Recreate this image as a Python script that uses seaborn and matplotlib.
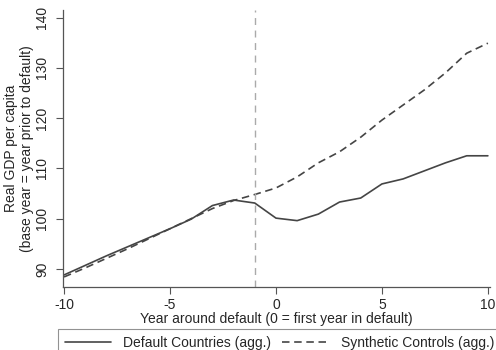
import pandas as pd
import seaborn as sns
import matplotlib.pyplot as plt

# values
years = list(range(-10, 11))
default_countries = [88.8, 90.7, 92.6, 94.4, 96.2, 98.0, 99.9, 102.6, 103.7, 103.1,
                     100.1, 99.6, 100.9, 103.3, 104.1, 106.9, 107.9, 109.5, 111.1, 112.5, 112.5]
synthetic_controls = [88.4, 90.2, 92.1, 94.0, 96.0, 98.0, 100.0, 102.0, 103.6, 104.8,
                      106.1, 108.3, 111.1, 113.3, 116.2, 119.6, 122.6, 125.6, 129.0, 132.9, 134.9]
series_names = ["Default Countries (agg.)", "Synthetic Controls (agg.)"]
x_ticks = [-10, -5, 0, 5, 10]
y_ticks = [90, 100, 110, 120, 130, 140]
default_year = -1

sns.set_style("ticks")
plt.rcParams['font.family'] = ['Liberation Sans', 'DejaVu Sans']

df = pd.DataFrame({
    "year": years * 2,
    "gdp": default_countries + synthetic_controls,
    "series": [series_names[0]] * len(years) + [series_names[1]] * len(years),
})

fig = plt.figure(figsize=(4.96, 3.5), dpi=100)
ax = fig.add_axes([63 / 496, 1 - 287 / 350, (490 - 63) / 496, (287 - 10) / 350])

sns.lineplot(data=df, x="year", y="gdp", style="series", style_order=series_names,
             dashes={series_names[0]: "", series_names[1]: (4.5, 2.8)},
             color="#454545", linewidth=1.2, ax=ax, legend=True)
ax.axvline(default_year, color="#aaaaaa", linestyle=(0, (5, 4)), linewidth=1.0)

ax.set_xlim(-10.05, 10.1)
ax.set_ylim(86.4, 141.5)
ax.set_xticks(x_ticks)
ax.set_xticklabels([str(t) for t in x_ticks])
ax.set_yticks(y_ticks)
ax.tick_params(axis='y', labelrotation=90, labelsize=10, length=5, pad=5, color="#555555")
ax.tick_params(axis='x', labelsize=10, length=5, pad=3, color="#555555")
for lbl in ax.get_yticklabels():
    lbl.set_va("center")
ax.set_xlabel("Year around default (0 = first year in default)", fontsize=10, labelpad=0)
ax.set_ylabel("Real GDP per capita\n(base year = year prior to default)", fontsize=10,
              linespacing=1.2)
ax.yaxis.set_label_coords(-0.067, 0.5)
sns.despine(ax=ax)
for s in ["left", "bottom"]:
    ax.spines[s].set_color("#555555")
    ax.spines[s].set_linewidth(0.9)

handles, labels = ax.get_legend_handles_labels()
ax.get_legend().remove()
leg = fig.legend(handles, labels, loc="upper left", ncol=2,
                 bbox_to_anchor=(58 / 496, 1 - 329 / 350),
                 frameon=True, fancybox=False, edgecolor="#777777", fontsize=10,
                 handlelength=3.3, borderaxespad=0, borderpad=0.5, handletextpad=0.9,
                 columnspacing=0.8)
leg.get_frame().set_linewidth(0.8)

fig.savefig("out.png", dpi=100)
